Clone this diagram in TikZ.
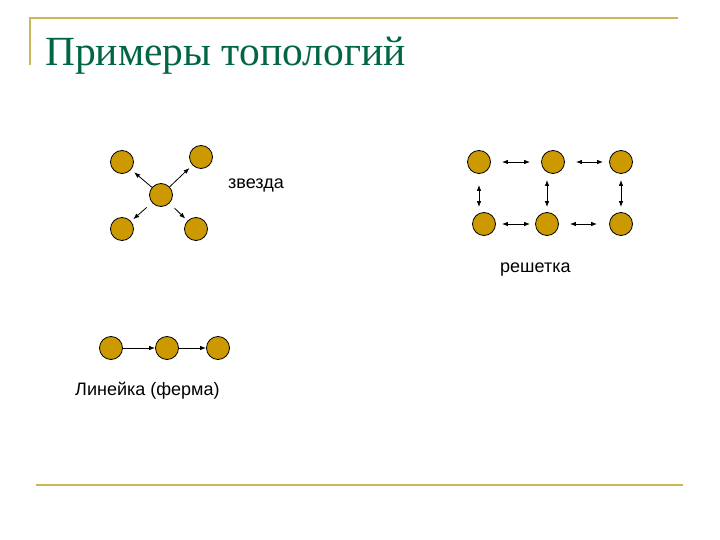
\documentclass[tikz,border=0pt]{standalone}
\usepackage{fontspec}
\setmainfont{Liberation Serif}
\setsansfont{Liberation Sans}
\usetikzlibrary{arrows.meta}
\definecolor{vertexfill}{RGB}{204,153,0}
\definecolor{rulecolor}{RGB}{200,184,90}
\definecolor{titlegreen}{RGB}{0,102,68}
\tikzset{
  vertex/.style = {draw, circle, fill = vertexfill, minimum size = 23pt, inner sep = 0pt, line width = 0.8pt},
  arr/.style = {-{Latex[length=6pt,width=4.5pt]}, line width = 0.8pt},
  darr/.style = {{Latex[length=6pt,width=4.5pt]}-{Latex[length=6pt,width=4.5pt]}, line width = 0.8pt},
  lbl/.style = {font = \sffamily\fontsize{18}{20}\selectfont, inner sep = 0pt},
}
\begin{document}
\begin{tikzpicture}[x = 1pt, y = -1pt]
        \useasboundingbox (0,0) rectangle (720,540);
        % frame
        \draw [rulecolor, line width = 2pt] (30,65) -- (30,18) -- (678,18);
        \draw [rulecolor, line width = 2pt] (36,485) -- (683,485);
        \node [anchor = base west, inner sep = 0pt, text = titlegreen, font = \fontsize{41.5}{45}\selectfont] (title) at (45,66) {Примеры топологий};
        %
        \node [vertex] (s0) at (161,195) {};
        \node [vertex] (s1) at (122,162) {};
        \node [vertex] (s2) at (201,157) {};
        \node [vertex] (s3) at (122,229) {};
        \node [vertex] (s4) at (196,229) {};
        \draw [arr, shorten > = 4pt] (s0) -- (s1);
        \draw [arr, shorten > = 4pt] (s0) -- (s2);
        \draw [arr, shorten < = 7pt, shorten > = 3pt] (s0) -- (s3);
        \draw [arr, shorten < = 7pt, shorten > = 3pt] (s0) -- (s4);
        \node [lbl, anchor = west] (star) at (228,185) {звезда};
        %
        \node [vertex] (g1) at (479,162) {};
        \node [vertex] (g2) at (553,162) {};
        \node [vertex] (g3) at (621,162) {};
        \node [vertex] (g4) at (484,224) {};
        \node [vertex] (g5) at (547,224) {};
        \node [vertex] (g6) at (621,224) {};
        \draw [darr, shorten < = 11pt, shorten > = 11pt] (g1) -- (g2);
        \draw [darr, shorten < = 11pt, shorten > = 6pt] (g2) -- (g3);
        \draw [darr, shorten < = 6pt, shorten > = 5pt] (g4) -- (g5);
        \draw [darr, shorten < = 11pt, shorten > = 12pt] (g5) -- (g6);
        \draw [darr, shorten < = 11pt, shorten > = 5pt] (g1.south) -- (g1.south |- g4.north);
        \draw [darr, shorten < = 6pt, shorten > = 5pt] (g5.north |- g2.south) -- (g5.north);
        \draw [darr, shorten < = 6pt, shorten > = 5pt] (g3.south) -- (g6.north);
        \node [lbl, anchor = west] (grid) at (500,270) {решетка};
        %
        \node [vertex] (l1) at (111,348) {};
        \node [vertex] (l2) at (167,348) {};
        \node [vertex] (l3) at (218,348) {};
        \draw [arr] (l1) -- (l2);
        \draw [arr] (l2) -- (l3);
        \node [lbl, anchor = west] (line) at (75,391) {Линейка (ферма)};
\end{tikzpicture}
\end{document}
